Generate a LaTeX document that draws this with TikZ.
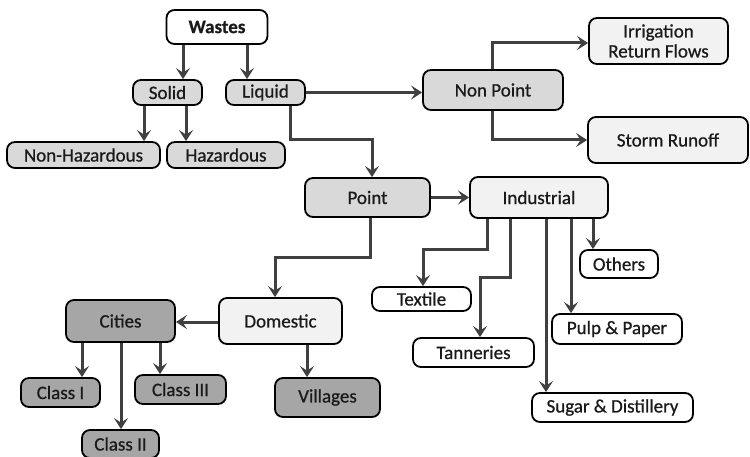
\documentclass[tikz,border=0pt]{standalone}
\usepackage{fontspec}
\setmainfont{Carlito}
\newfontfamily\medfont{Carlito}[FakeBold=0.7]
\usetikzlibrary{arrows.meta}
\definecolor{arrowgray}{HTML}{404040}
\definecolor{lgray}{HTML}{D9D9D9}
\definecolor{pale}{HTML}{F2F2F2}
\definecolor{dgray}{HTML}{A6A6A6}
\definecolor{txt}{HTML}{1A1A1A}
\begin{document}
\begin{tikzpicture}[x=1pt,y=-1pt,
 box/.style={draw=black, line width=1.8pt, rounded corners=8pt, inner sep=0pt,
   font=\medfont\fontsize{19}{20}\selectfont, text=txt, align=center},
 bw/.style={box, fill=white},
 bl/.style={box, fill=lgray},
 bp/.style={box, fill=pale},
 bd/.style={box, fill=dgray},
 arr/.style={draw=arrowgray, line width=3pt, -{Stealth[length=11pt,width=14pt,inset=4.5pt]}},
]
\useasboundingbox (0,0) rectangle (750,457);
% nodes
\node[bw, minimum width=101pt, minimum height=34pt] (wastes) at (217,27) {\textbf{Wastes}};
\node[bl, minimum width=69pt, minimum height=25pt] (solid) at (167.5,92.5) {Solid};
\node[bl, minimum width=79pt, minimum height=25pt] (liquid) at (265.5,92.5) {Liquid};
\node[bl, minimum width=153pt, minimum height=26pt] (nonhaz) at (83.5,155) {Non-Hazardous};
\node[bl, minimum width=118pt, minimum height=26pt] (haz) at (226,155) {Hazardous};
\node[bl, minimum width=140pt, minimum height=40pt] (nonpoint) at (493,90) {Non Point};
\node[bp, minimum width=139pt, minimum height=46pt] (irrig) at (658.5,41) {Irrigation\\Return Flows};
\node[bp, minimum width=160pt, minimum height=46pt] (storm) at (668,140) {Storm Runoff};
\node[bl, minimum width=125pt, minimum height=39pt] (point) at (367.5,197.5) {Point};
\node[bp, minimum width=138pt, minimum height=41pt] (indus) at (539,197.5) {Industrial};
\node[bp, minimum width=123pt, minimum height=46pt] (domestic) at (280.5,321) {Domestic};
\node[bd, minimum width=109pt, minimum height=42pt] (cities) at (120.5,321) {Cities};
\node[bd, minimum width=105pt, minimum height=39pt] (villages) at (327.5,397.5) {Villages};
\node[bd, minimum width=79pt, minimum height=29pt] (class1) at (60.5,392.5) {Class I};
\node[bd, minimum width=91pt, minimum height=29pt] (class3) at (180.5,389.5) {Class III};
\node[bd, minimum width=77pt, minimum height=28pt] (class2) at (120.5,444) {Class II};
\node[bw, minimum width=78pt, minimum height=28pt] (others) at (619,264) {Others};
\node[bw, minimum width=99pt, minimum height=24pt] (textile) at (421.5,299) {Textile};
\node[bw, minimum width=121pt, minimum height=29pt] (tann) at (473.5,352.5) {Tanneries};
\node[bw, minimum width=130pt, minimum height=30pt] (pulp) at (617,329) {Pulp \& Paper};
\node[bw, minimum width=161pt, minimum height=29pt] (sugar) at (612.5,407.5) {Sugar \& Distillery};
% connectors
\draw[arr] (wastes.south -| 183,0) -- (solid.north -| 183,0);
\draw[arr] (wastes.south -| 247,0) -- (liquid.north -| 247,0);
\draw[arr] (solid.south -| 144,0) -- (nonhaz.north -| 144,0);
\draw[arr] (solid.south -| 186,0) -- (haz.north -| 186,0);
\draw[arr] (liquid.east) -- (nonpoint.west |- liquid.east);
\draw[arr] (liquid.south -| 290,0) -- (290,140) -- (372,140) -- (point.north -| 372,0);
\draw[arr] (nonpoint.north -| 492,0) -- (492,43) -- (irrig.west |- 0,43);
\draw[arr] (nonpoint.south -| 492,0) -- (492,140) -- (storm.west |- 0,140);
\draw[arr] (point.east) -- (indus.west |- point.east);
\draw[arr] (point.south -| 370,0) -- (370,258) -- (275,258) -- (domestic.north -| 275,0);
\draw[arr] (domestic.west |- 0,322) -- (cities.east |- 0,322);
\draw[arr] (domestic.south -| 307,0) -- (villages.north -| 307,0);
\draw[arr] (cities.south -| 82,0) -- (class1.north -| 82,0);
\draw[arr] (cities.south -| 160,0) -- (class3.north -| 160,0);
\draw[arr] (cities.south -| 121,0) -- (class2.north -| 121,0);
\draw[arr] (indus.south -| 487,0) -- (487,250) -- (423,250) -- (textile.north -| 423,0);
\draw[arr] (indus.south -| 510,0) -- (510,278) -- (480,278) -- (tann.north -| 480,0);
\draw[arr] (indus.south -| 546,0) -- (sugar.north -| 546,0);
\draw[arr] (indus.south -| 571,0) -- (pulp.north -| 571,0);
\draw[arr] (indus.south -| 593,0) -- (others.north -| 593,0);
\end{tikzpicture}
\end{document}
